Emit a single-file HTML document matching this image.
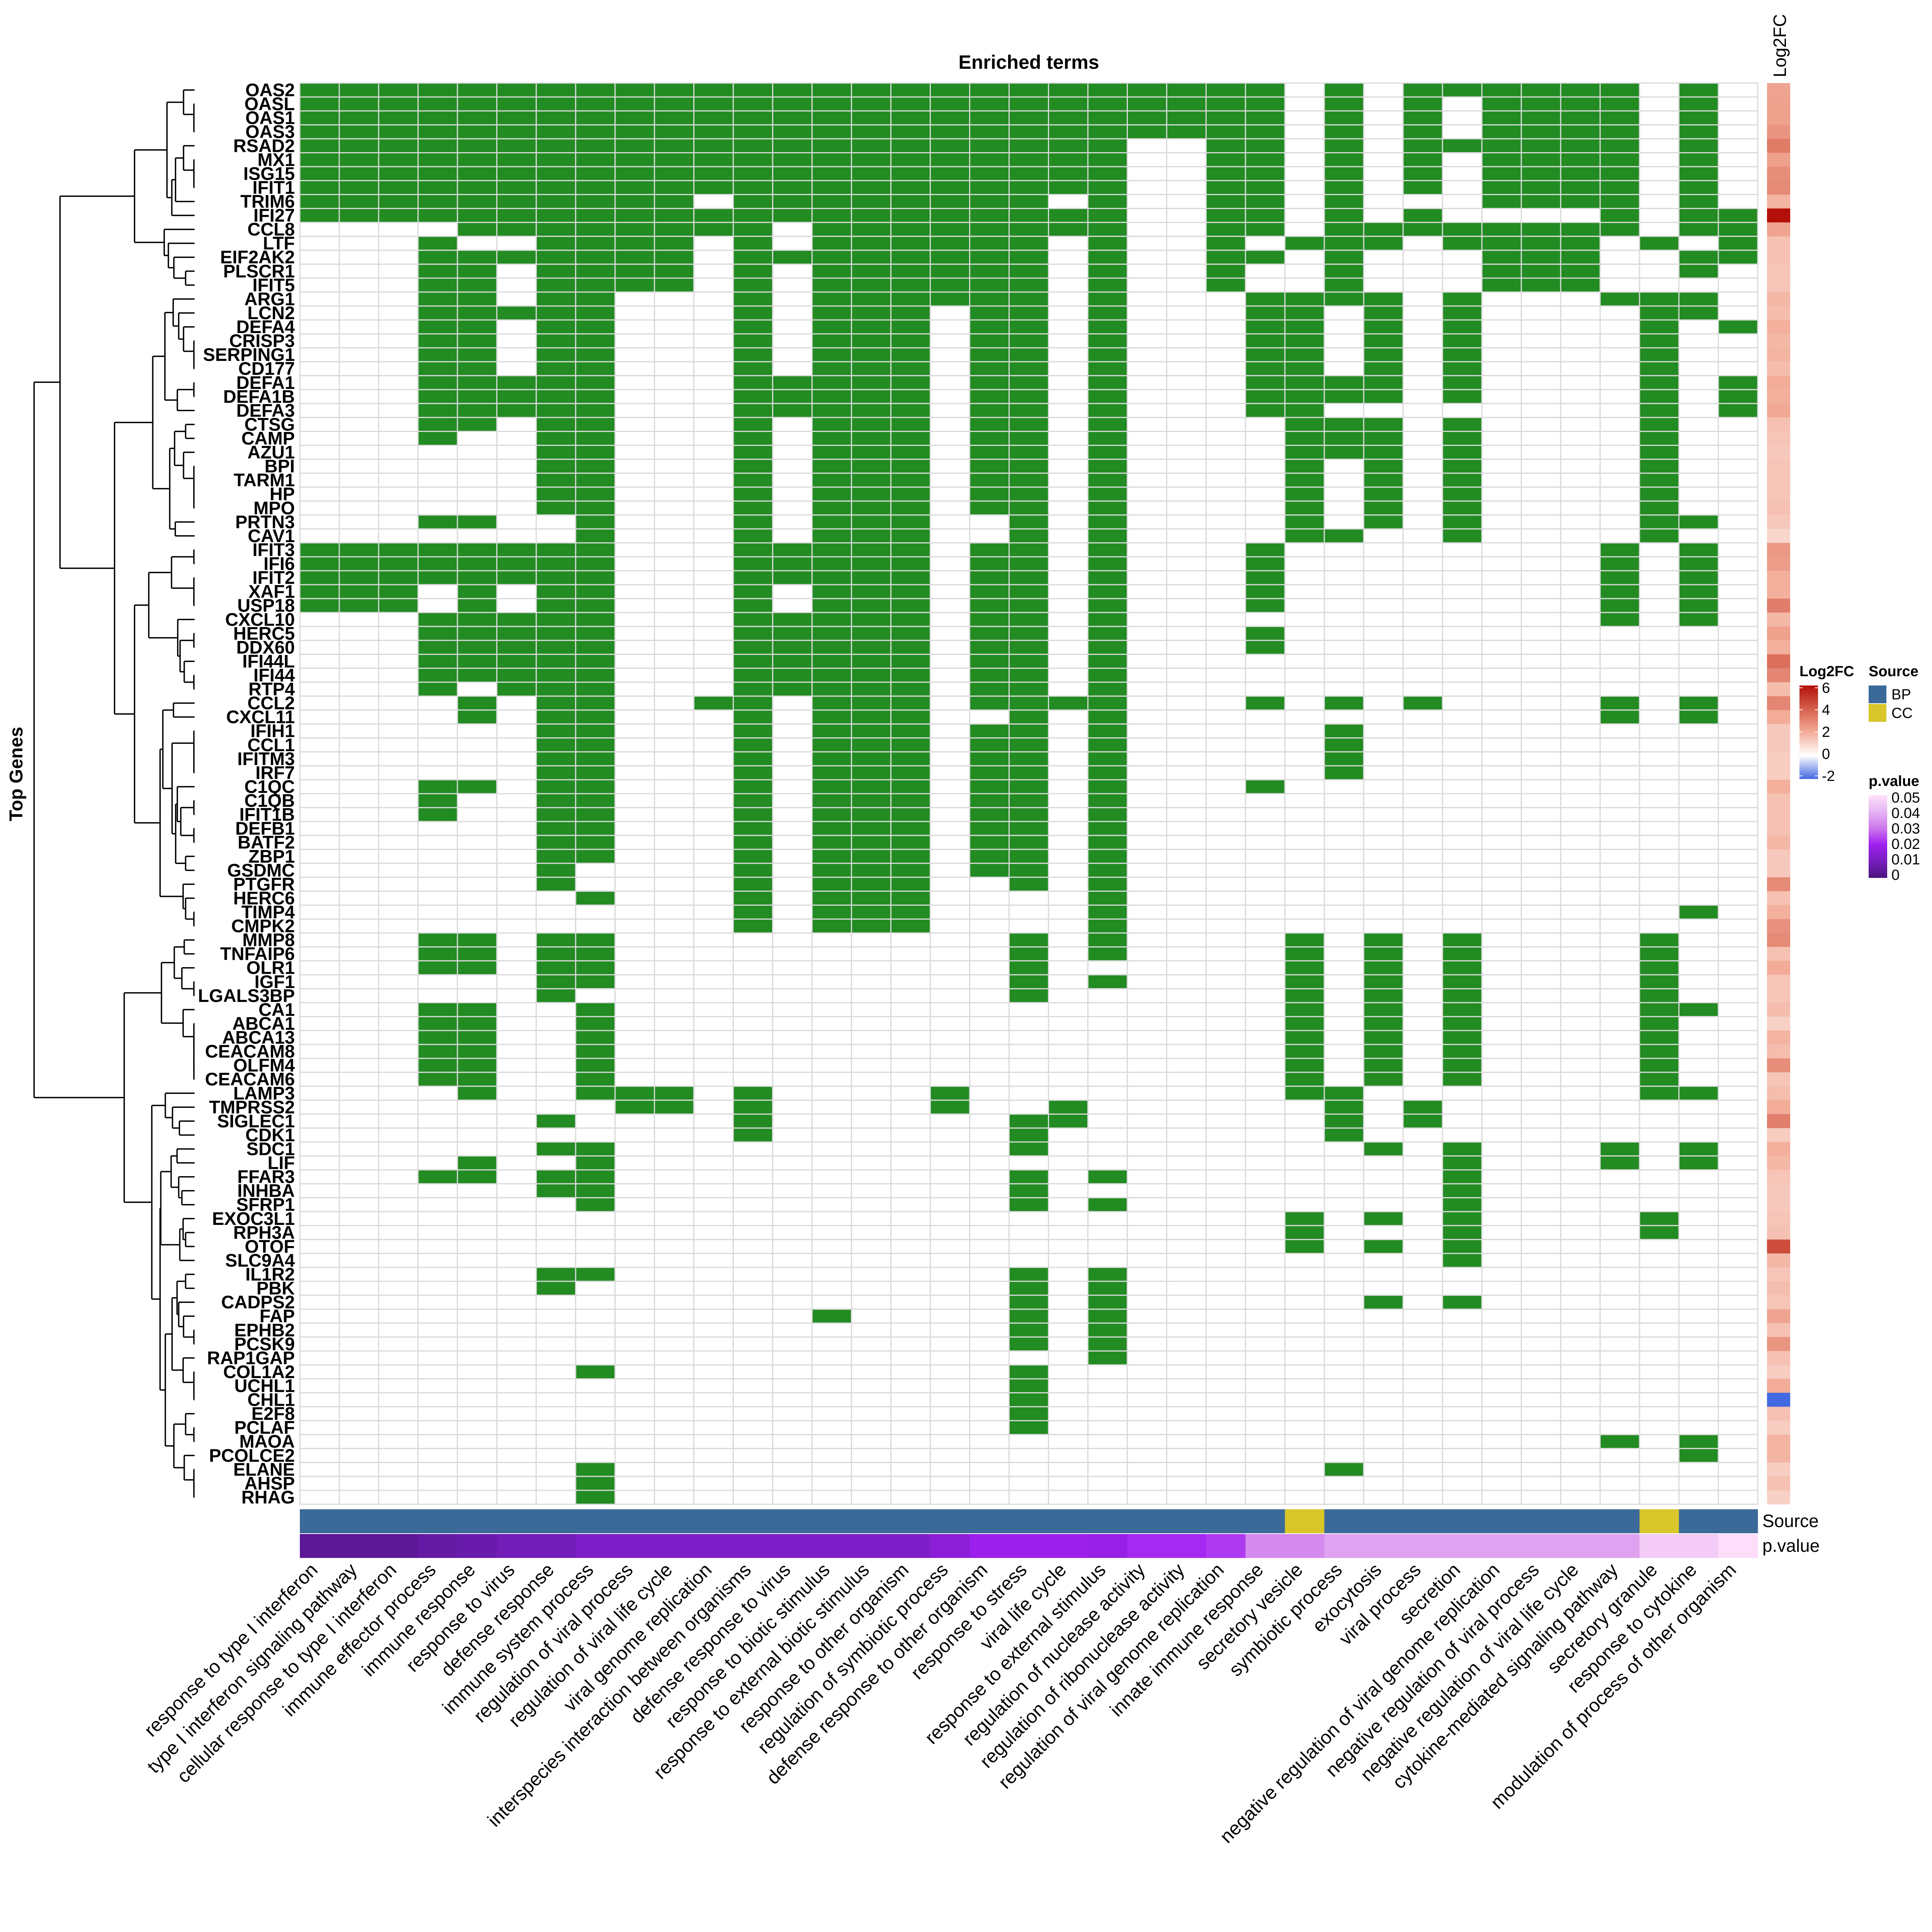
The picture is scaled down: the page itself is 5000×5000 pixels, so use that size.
<!DOCTYPE html>
<html><head><meta charset="utf-8">
<style>
html,body{margin:0;padding:0;background:#fff;}
svg{display:block;font-family:"Liberation Sans",sans-serif;}
</style></head>
<body>
<svg id="chart" xmlns="http://www.w3.org/2000/svg" width="5000" height="5000" viewBox="0 0 5000 5000">
<rect width="5000" height="5000" fill="#fff"/>
</svg>
<script>
const genes = ["OAS2","OASL","OAS1","OAS3","RSAD2","MX1","ISG15","IFIT1","TRIM6","IFI27","CCL8","LTF","EIF2AK2","PLSCR1","IFIT5","ARG1","LCN2","DEFA4","CRISP3","SERPING1","CD177","DEFA1","DEFA1B","DEFA3","CTSG","CAMP","AZU1","BPI","TARM1","HP","MPO","PRTN3","CAV1","IFIT3","IFI6","IFIT2","XAF1","USP18","CXCL10","HERC5","DDX60","IFI44L","IFI44","RTP4","CCL2","CXCL11","IFIH1","CCL1","IFITM3","IRF7","C1QC","C1QB","IFIT1B","DEFB1","BATF2","ZBP1","GSDMC","PTGFR","HERC6","TIMP4","CMPK2","MMP8","TNFAIP6","OLR1","IGF1","LGALS3BP","CA1","ABCA1","ABCA13","CEACAM8","OLFM4","CEACAM6","LAMP3","TMPRSS2","SIGLEC1","CDK1","SDC1","LIF","FFAR3","INHBA","SFRP1","EXOC3L1","RPH3A","OTOF","SLC9A4","IL1R2","PBK","CADPS2","FAP","EPHB2","PCSK9","RAP1GAP","COL1A2","UCHL1","CHL1","E2F8","PCLAF","MAOA","PCOLCE2","ELANE","AHSP","RHAG"];
const terms = ["response to type I interferon","type I interferon signaling pathway","cellular response to type I interferon","immune effector process","immune response","response to virus","defense response","immune system process","regulation of viral process","regulation of viral life cycle","viral genome replication","interspecies interaction between organisms","defense response to virus","response to biotic stimulus","response to external biotic stimulus","response to other organism","regulation of symbiotic process","defense response to other organism","response to stress","viral life cycle","response to external stimulus","regulation of nuclease activity","regulation of ribonuclease activity","regulation of viral genome replication","innate immune response","secretory vesicle","symbiotic process","exocytosis","viral process","secretion","negative regulation of viral genome replication","negative regulation of viral process","negative regulation of viral life cycle","cytokine-mediated signaling pathway","secretory granule","response to cytokine","modulation of process of other organism"];
const termSource = ["BP","BP","BP","BP","BP","BP","BP","BP","BP","BP","BP","BP","BP","BP","BP","BP","BP","BP","BP","BP","BP","BP","BP","BP","BP","CC","BP","BP","BP","BP","BP","BP","BP","BP","CC","BP","BP"];
const termPval = [0.004,0.004,0.004,0.006,0.007,0.009,0.009,0.012,0.012,0.012,0.012,0.012,0.012,0.012,0.012,0.012,0.015,0.019,0.019,0.019,0.018,0.021,0.021,0.023,0.033,0.033,0.037,0.037,0.037,0.037,0.037,0.037,0.037,0.037,0.045,0.045,0.049];
const log2fc = [2.2,2.3,2.3,2.6,3.3,2.3,2.8,2.9,1.8,6,2.2,1.5,1.5,1.4,1.4,1.7,1.6,1.9,1.7,1.8,1.6,2.0,1.9,2.1,1.5,1.4,1.3,1.4,1.4,1.4,1.5,1.3,1.0,2.5,2.4,1.9,1.9,3.2,1.7,2.3,1.9,3.6,3.0,1.6,3.0,2.0,1.3,1.3,1.2,1.2,1.9,1.5,1.5,1.5,1.7,1.3,1.3,2.9,1.5,1.9,2.7,2.9,1.5,2.0,1.4,1.4,1.6,1.1,1.8,1.6,2.8,1.4,1.6,2.0,3.2,1.2,1.9,1.7,1.4,1.3,1.3,1.4,1.5,4.5,1.7,1.4,1.6,1.4,2.2,1.5,2.6,1.5,1.2,2.0,-2,1.5,1.2,1.8,1.8,1.2,1.5,1.1];
const membership = [
"0-23,24,26,28,29,30,31,32,33,35","0-23,24,26,28,30,31,32,33,35","0-23,24,26,28,30,31,32,33,35","0-23,24,26,28,30,31,32,33,35",
"0-20,23,24,26,28,29,30-33,35","0-20,23,24,26,28,30-33,35","0-20,23,24,26,28,30-33,35","0-20,23,24,26,28,30-33,35",
"0-9,11-18,20,23,24,26,30-33,35","0-20,23,24,26,28,33,35,36","4-11,13-20,23,24,26-33,35,36",
"3,6-9,11,13-18,20,23,25,26,27,29,30,31,32,34,36","3-9,11-18,20,23,24,26,30,31,32,35,36",
"3,4,6-9,11,13-18,20,23,26,30,31,32,35","3,4,6-9,11,13-18,20,23,26,30,31,32",
"3,4,6,7,11,13-18,20,24,25,26,27,29,33,34,35","3-7,11,13,14,15,17,18,20,24,25,27,29,34,35",
"3,4,6,7,11,13,14,15,17,18,20,24,25,27,29,34,36","3,4,6,7,11,13,14,15,17,18,20,24,25,27,29,34",
"3,4,6,7,11,13,14,15,17,18,20,24,25,27,29,34","3,4,6,7,11,13,14,15,17,18,20,24,25,27,29,34",
"3-7,11-15,17,18,20,24,25,26,27,29,34,36","3-7,11-15,17,18,20,24,25,26,27,29,34,36","3-7,11-15,17,18,20,24,25,34,36",
"3,4,6,7,11,13,14,15,17,18,20,25,26,27,29,34","3,6,7,11,13,14,15,17,18,20,25,26,27,29,34","6,7,11,13,14,15,17,18,20,25,26,27,29,34",
"6,7,11,13-15,17,18,20,25,27,29,34","6,7,11,13-15,17,18,20,25,27,29,34","6,7,11,13-15,17,18,20,25,27,29,34","6,7,11,13-15,17,18,20,25,27,29,34",
"3,4,7,11,13,14,15,18,20,25,27,29,34,35","7,11,13,14,15,18,20,25,26,29,34",
"0-7,11-15,17,18,20,24,33,35","0-7,11-15,17,18,20,24,33,35","0-7,11-15,17,18,20,24,33,35",
"0,1,2,4,6,7,11,13,14,15,17,18,20,24,33,35","0,1,2,4,6,7,11,13,14,15,17,18,20,24,33,35",
"3-7,11-15,17,18,20,33,35","3-7,11-15,17,18,20,24","3-7,11-15,17,18,20,24","3-7,11-15,17,18,20","3-7,11-15,17,18,20","3,5,6,7,11-15,17,18,20",
"4,6,7,10,11,13,14,15,17-20,24,26,28,33,35","4,6,7,11,13,14,15,18,20,33,35",
"6,7,11,13-15,17,18,20,26","6,7,11,13-15,17,18,20,26","6,7,11,13-15,17,18,20,26","6,7,11,13-15,17,18,20,26",
"3,4,6,7,11,13-15,17,18,20,24","3,6,7,11,13-15,17,18,20","3,6,7,11,13-15,17,18,20",
"6,7,11,13-15,17,18,20","6,7,11,13-15,17,18,20","6,7,11,13-15,17,18,20",
"6,11,13-15,17,18,20","6,11,13-15,18,20","7,11,13-15,20","11,13-15,20,35","11,13-15,20",
"3,4,6,7,18,20,25,27,29,34","3,4,6,7,18,20,25,27,29,34","3,4,6,7,18,25,27,29,34","6,7,18,20,25,27,29,34","6,18,25,27,29,34",
"3,4,7,25,27,29,34,35","3,4,7,25,27,29,34","3,4,7,25,27,29,34","3,4,7,25,27,29,34","3,4,7,25,27,29,34","3,4,7,25,27,29,34",
"4,7,8,9,11,16,25,26,34,35","8,9,11,16,19,26,28","6,11,18,19,26,28","11,18,26",
"6,7,18,27,29,33,35","4,7,29,33,35","3,4,6,7,18,20,29","6,7,18,29","7,18,20,29",
"25,27,29,34","25,29,34","25,27,29","29",
"6,7,18,20","6,18,20","18,20,27,29","13,18,20","18,20","18,20","20","7,18","18","18","18","18",
"33,35","35","7,26","7","7"];
const dendro = [247,[435,[975,[1210,[1330,0,[1405,1,[1405,2,3]]],[1245,[1272,[1330,4,[1405,5,[1405,6,7]]],8],9]],[1190,10,[1220,11,[1260,12,[1345,13,14]]]]],[830,[1107,[1195,[1255,15,[1295,16,[1330,17,[1405,18,[1405,19,20]]]]],[1285,[1405,21,22],23]],[1230,[1265,[1345,24,25],[1330,26,[1405,27,[1405,28,[1405,29,30]]]]],[1270,31,32]]],[975,[1078,[1243,[1405,33,34],[1405,35,[1405,36,37]]],[1288,38,[1305,[1405,39,40],[1335,41,[1405,42,43]]]]],[1160,[1180,[1257,44,45],[1247,[1405,46,[1405,47,[1405,48,49]]],[1273,[1285,50,[1310,[1405,51,52],[1405,53,54]]],[1345,55,56]]]],[1327,57,[1345,58,[1405,59,60]]]]]]],[900,[1170,[1263,[1335,61,62],[1318,63,[1405,64,65]]],[1327,66,[1405,67,[1405,68,[1405,69,[1405,70,71]]]]]],[1100,[1198,72,[1250,73,[1300,74,75]]],[1160,[1165,[1240,[1283,76,77],[1295,78,[1318,79,80]]],[1303,[1327,81,[1345,82,83]],84]],[1198,[1247,[1283,[1345,85,86],[1295,87,[1330,88,[1405,89,90]]]],[1327,91,[1405,92,[1405,93,94]]]],[1260,[1345,95,[1405,96,97]],[1335,98,[1405,99,[1405,100,101]]]]]]]]];

const NS="http://www.w3.org/2000/svg";
const svg=document.getElementById('chart');
const X0=776, X1=4549, Y0=215, Y1=3893;
const nC=terms.length, nR=genes.length;
const cw=(X1-X0)/nC, rh=(Y1-Y0)/nR;
const xS=c=>X0+c*cw, yS=r=>Y0+r*rh;
function el(tag,attrs,parent){const e=document.createElementNS(NS,tag);for(const k in attrs)e.setAttribute(k,attrs[k]);(parent||svg).appendChild(e);return e;}
function parse(s){const out=new Set();s.split(',').forEach(p=>{if(p.includes('-')){const [a,b]=p.split('-').map(Number);for(let i=a;i<=b;i++)out.add(i);}else out.add(Number(p));});return out;}
function lerp(a,b,t){return a.map((v,i)=>Math.round(v+(b[i]-v)*t));}
function ramp(stops,v){if(v<=stops[0][0])return stops[0][1];for(let i=1;i<stops.length;i++){if(v<=stops[i][0]){const t=(v-stops[i-1][0])/(stops[i][0]-stops[i-1][0]);return lerp(stops[i-1][1],stops[i][1],t);}}return stops[stops.length-1][1];}
const rgb=a=>`rgb(${a[0]},${a[1]},${a[2]})`;
const fcStops=[[-2,[65,105,225]],[0,[255,255,255]],[2,[242,172,152]],[4,[214,96,77]],[6,[178,16,8]]];
const pStops=[[0,[75,20,125]],[0.01,[118,30,190]],[0.02,[160,32,240]],[0.03,[205,120,236]],[0.04,[230,180,242]],[0.05,[255,226,250]]];
const srcCol={BP:"#3B6A99",CC:"#D8C62A"};

const t=el('text',{x:(X0+X1)/2,y:178,'text-anchor':'middle','font-size':50,'font-weight':'bold'});t.textContent='Enriched terms';



const gCells=el('g',{});


for(let r=0;r<nR;r++){const set=parse(membership[r]);for(let c=0;c<nC;c++){const rc=el('rect',{x:xS(c),y:yS(r),width:cw,height:rh,fill:set.has(c)?'#228B22':'#ffffff',stroke:'#D9D9D9','stroke-width':3},gCells);

}}

for(let r=0;r<nR;r++){const tx=el('text',{x:763,y:yS(r)+rh/2+16,'text-anchor':'end','font-size':47,'font-weight':'bold'});tx.textContent=genes[r];

}

for(let r=0;r<nR;r++){const rc=el('rect',{x:4573,y:yS(r),width:60,height:rh+0.5,fill:rgb(ramp(fcStops,log2fc[r]))});

}
const lfl=el('text',{x:0,y:0,'font-size':46,transform:'translate(4622,200) rotate(-90)'});lfl.textContent='Log2FC';



for(let c=0;c<nC;c++){
const s=el('rect',{x:xS(c),y:3906,width:cw+0.5,height:62,fill:srcCol[termSource[c]]});


const p=el('rect',{x:xS(c),y:3970,width:cw+0.5,height:62,fill:rgb(ramp(pStops,termPval[c]))});


const tl=el('text',{x:0,y:0,'text-anchor':'end','font-size':49,transform:`translate(${xS(c)+cw/2-2},4066) rotate(-45)`});tl.textContent=terms[c];

}
const sl=el('text',{x:4561,y:3952,'font-size':46});sl.textContent='Source';


const pl=el('text',{x:4561,y:4016,'font-size':46});pl.textContent='p.value';



const yt=el('text',{x:0,y:0,'text-anchor':'middle','font-size':48,'font-weight':'bold',transform:'translate(58,2003) rotate(-90)'});yt.textContent='Top Genes';



const gD=el('g',{stroke:'#000','stroke-width':3.5,fill:'none'});


const LEAFX=1410/2.8;
function draw(n){if(typeof n==='number')return {x:LEAFX,y:yS(n)+rh/2};
const x=n[0]/2.8,a=draw(n[1]),b=draw(n[2]);
el('line',{x1:x,y1:a.y,x2:x,y2:b.y},gD);
el('line',{x1:x,y1:a.y,x2:a.x,y2:a.y},gD);
el('line',{x1:x,y1:b.y,x2:b.x,y2:b.y},gD);
return {x:x,y:(a.y+b.y)/2};}
draw(dendro);

const defs=el('defs',{});
const g1=el('linearGradient',{id:'fcg',x1:0,y1:0,x2:0,y2:1},defs);
[[6,0],[4,0.25],[2,0.5],[0,0.75],[-2,1]].forEach(([v,o])=>el('stop',{offset:o,'stop-color':rgb(ramp(fcStops,v))},g1));
const g2=el('linearGradient',{id:'pg',x1:0,y1:0,x2:0,y2:1},defs);
[0.05,0.04,0.03,0.02,0.01,0].forEach((v,i)=>el('stop',{offset:i/5,'stop-color':rgb(ramp(pStops,v))},g2));

const lg1=el('g',{});


let tt=el('text',{x:4657,y:1750,'font-size':38,'font-weight':'bold'},lg1);tt.textContent='Log2FC';
el('rect',{x:4657,y:1774,width:48,height:242,fill:'url(#fcg)'},lg1);
const fcTicks=[6,4,2,0,-2];
fcTicks.forEach((v,i)=>{const y=1780+i*57;el('line',{x1:4657,x2:4665,y1:y,y2:y,stroke:'#fff','stroke-width':2},lg1);el('line',{x1:4697,x2:4705,y1:y,y2:y,stroke:'#fff','stroke-width':2},lg1);const tx=el('text',{x:4715,y:y+13,'font-size':38},lg1);tx.textContent=String(v);});

const lg2=el('g',{});


tt=el('text',{x:4836,y:1750,'font-size':38,'font-weight':'bold'},lg2);tt.textContent='Source';
[['BP',1774],['CC',1822]].forEach(([k,y])=>{el('rect',{x:4836,y:y,width:46,height:46,fill:srcCol[k]},lg2);const tx=el('text',{x:4895,y:y+36,'font-size':38},lg2);tx.textContent=k;});

const lg3=el('g',{});


tt=el('text',{x:4836,y:2034,'font-size':38,'font-weight':'bold'},lg3);tt.textContent='p.value';
el('rect',{x:4836,y:2058,width:48,height:214,fill:'url(#pg)'},lg3);
const pTicks=["0.05","0.04","0.03","0.02","0.01","0"];
pTicks.forEach((v,i)=>{const y=2064+i*40;const tx=el('text',{x:4895,y:y+13,'font-size':38},lg3);tx.textContent=v;});
</script>
</body></html>
